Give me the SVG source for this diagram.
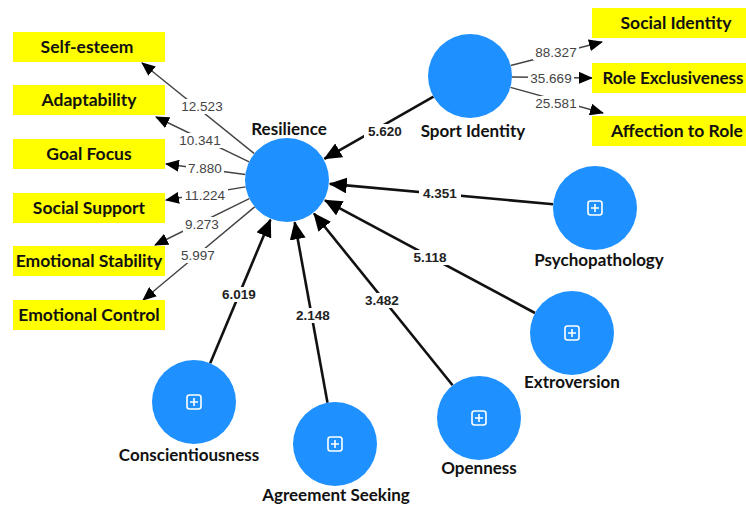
<svg xmlns="http://www.w3.org/2000/svg" width="746" height="506" viewBox="0 0 746 506">
<style>
.box{fill:#ffff00}
.bt{font-family:Lato,"Liberation Sans",sans-serif;font-weight:700;font-size:17.5px;fill:#111;text-anchor:middle}
.nl{font-family:Lato,"Liberation Sans",sans-serif;font-weight:700;font-size:17px;fill:#111;text-anchor:middle}
.c{fill:#1e90ff}
.thin{stroke:#444;stroke-width:1.4;fill:none}
.thick{stroke:#111;stroke-width:2.6;fill:none}
.lt{font-family:"Liberation Sans",Arial,sans-serif;font-size:13.5px;fill:#444;text-anchor:middle}
.lb{font-family:"Liberation Sans",Arial,sans-serif;font-size:13.5px;font-weight:700;fill:#222;text-anchor:middle}
.bg{fill:#fff}
.ic{fill:none;stroke:#fff;stroke-width:1.6}
</style>
<defs>
<marker id="ah" markerUnits="userSpaceOnUse" markerWidth="14" markerHeight="12" refX="13" refY="6" orient="auto">
<path d="M0,0 L14,6 L0,12 Z" fill="#000"/>
</marker>
<marker id="ahb" markerUnits="userSpaceOnUse" markerWidth="18" markerHeight="16" refX="17" refY="8" orient="auto">
<path d="M0,0 L18,8 L0,16 Z" fill="#000"/>
</marker>
<g id="plus">
<rect x="-7" y="-7" width="14" height="14" rx="2.5" class="ic"/>
<path d="M-4,0 H4 M0,-4 V4" class="ic"/>
</g>
</defs>

<g id="connectors">
<line class="thin" x1="254.3" y1="153.6" x2="142" y2="63" marker-end="url(#ah)"/>
<line class="thin" x1="249.2" y1="161.8" x2="156" y2="117" marker-end="url(#ah)"/>
<line class="thin" x1="245.4" y1="174.5" x2="166" y2="164" marker-end="url(#ah)"/>
<line class="thin" x1="245.6" y1="186.9" x2="166" y2="200" marker-end="url(#ah)"/>
<line class="thin" x1="249.3" y1="198.6" x2="155" y2="245" marker-end="url(#ah)"/>
<line class="thin" x1="254.7" y1="206.9" x2="143" y2="300" marker-end="url(#ah)"/>
<line class="thin" x1="510.7" y1="65.5" x2="602" y2="42" marker-end="url(#ah)"/>
<line class="thin" x1="512" y1="77" x2="592" y2="78" marker-end="url(#ah)"/>
<line class="thin" x1="510.5" y1="87.3" x2="603" y2="113" marker-end="url(#ah)"/>
<line class="thick" x1="433.5" y1="96.7" x2="324.4" y2="158.8" marker-end="url(#ahb)"/>
<line class="thick" x1="553.2" y1="204.2" x2="329.8" y2="183.9" marker-end="url(#ahb)"/>
<line class="thick" x1="535" y1="313" x2="324.9" y2="200.3" marker-end="url(#ahb)"/>
<line class="thick" x1="452.6" y1="385.3" x2="314" y2="213.5" marker-end="url(#ahb)"/>
<line class="thick" x1="327.5" y1="402.7" x2="294.7" y2="222.3" marker-end="url(#ahb)"/>
<line class="thick" x1="210.2" y1="363.3" x2="270.4" y2="219.7" marker-end="url(#ahb)"/>

<rect class="bg" x="179" y="99" width="46" height="15"/><text class="lt" x="202" y="111">12.523</text>
<rect class="bg" x="177" y="133" width="46" height="15"/><text class="lt" x="200" y="145">10.341</text>
<rect class="bg" x="186" y="161" width="38" height="15"/><text class="lt" x="205" y="173">7.880</text>
<rect class="bg" x="182" y="188" width="46" height="15"/><text class="lt" x="205" y="200">11.224</text>
<rect class="bg" x="183" y="217" width="38" height="15"/><text class="lt" x="202" y="229">9.273</text>
<rect class="bg" x="179" y="248" width="38" height="15"/><text class="lt" x="198" y="260">5.997</text>
<rect class="bg" x="533" y="45" width="46" height="15"/><text class="lt" x="556" y="57">88.327</text>
<rect class="bg" x="528" y="71" width="46" height="15"/><text class="lt" x="551" y="83">35.669</text>
<rect class="bg" x="533" y="96" width="46" height="15"/><text class="lt" x="556" y="108">25.581</text>

<rect class="bg" x="364" y="124" width="42" height="15"/><text class="lb" x="385" y="136">5.620</text>
<rect class="bg" x="419" y="186" width="42" height="15"/><text class="lb" x="440" y="198">4.351</text>
<rect class="bg" x="409" y="250" width="42" height="15"/><text class="lb" x="430" y="262">5.118</text>
<rect class="bg" x="361" y="293" width="42" height="15"/><text class="lb" x="382" y="305">3.482</text>
<rect class="bg" x="292" y="308" width="42" height="15"/><text class="lb" x="313" y="320">2.148</text>
<rect class="bg" x="218" y="287" width="42" height="15"/><text class="lb" x="239" y="299">6.019</text>
</g>

<g id="self-esteem"><rect class="box" x="13" y="32" width="152" height="30"/><text class="bt" x="87" y="53">Self-esteem</text></g>
<g id="adaptability"><rect class="box" x="13" y="85" width="152" height="30"/><text class="bt" x="89" y="106">Adaptability</text></g>
<g id="goal-focus"><rect class="box" x="13" y="139" width="152" height="30"/><text class="bt" x="89" y="160">Goal Focus</text></g>
<g id="social-support"><rect class="box" x="13" y="193" width="152" height="30"/><text class="bt" x="89" y="214">Social Support</text></g>
<g id="emotional-stability"><rect class="box" x="13" y="246" width="152" height="30"/><text class="bt" x="89" y="267">Emotional Stability</text></g>
<g id="emotional-control"><rect class="box" x="13" y="300" width="152" height="30"/><text class="bt" x="89" y="321">Emotional Control</text></g>

<g id="social-identity"><rect class="box" x="592" y="8" width="160" height="30"/><text class="bt" x="676" y="29">Social Identity</text></g>
<g id="role-exclusiveness"><rect class="box" x="592" y="63" width="160" height="30"/><text class="bt" x="673" y="84" style="font-size:17px">Role Exclusiveness</text></g>
<g id="affection-to-role"><rect class="box" x="592" y="116" width="160" height="30"/><text class="bt" x="677" y="137">Affection to Role</text></g>

<g id="resilience"><circle class="c" cx="287" cy="180" r="42"/><text class="nl" x="289" y="135">Resilience</text></g>
<g id="sport-identity"><circle class="c" cx="470" cy="76" r="42"/><text class="nl" x="473" y="137">Sport Identity</text></g>
<g id="psychopathology"><circle class="c" cx="595" cy="208" r="42"/><use href="#plus" x="595" y="208"/><text class="nl" x="599" y="266">Psychopathology</text></g>
<g id="extroversion"><circle class="c" cx="572" cy="333" r="42"/><use href="#plus" x="572" y="333"/><text class="nl" x="572" y="388">Extroversion</text></g>
<g id="openness"><circle class="c" cx="479" cy="418" r="42"/><use href="#plus" x="479" y="418"/><text class="nl" x="479" y="474">Openness</text></g>
<g id="conscientiousness"><circle class="c" cx="194" cy="402" r="42"/><use href="#plus" x="194" y="402"/><text class="nl" x="189" y="461">Conscientiousness</text></g>
<g id="agreement-seeking"><circle class="c" cx="335" cy="444" r="42"/><use href="#plus" x="335" y="444"/><text class="nl" x="336" y="501">Agreement Seeking</text></g>
</svg>
